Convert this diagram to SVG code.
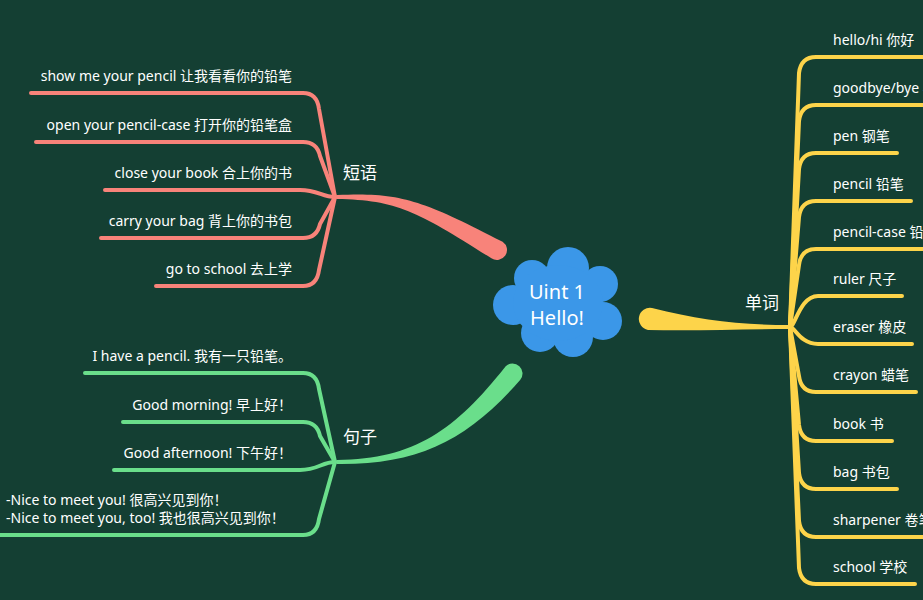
<svg xmlns="http://www.w3.org/2000/svg" width="923" height="600" viewBox="0 0 923 600">
<style>
.bg{fill:#143f33}
.leaf{fill:none;stroke-width:4;stroke-linecap:round;stroke-linejoin:round}
.coral{stroke:#f8837a}
.green{stroke:#6ade8b}
.yellow{stroke:#fdd44a}
.t{font-family:"Noto Sans","Noto Sans CJK SC",sans-serif;font-size:14px;fill:#ffffff}
.lab{font-family:"Noto Sans","Noto Sans CJK SC",sans-serif;font-size:17px;fill:#ffffff}
.ctr{font-family:"Noto Sans","Noto Sans CJK SC",sans-serif;font-size:20px;fill:#ffffff;text-anchor:middle}
.end{text-anchor:end}
</style>
<rect class="bg" x="0" y="0" width="923" height="600"/>
<g id="connectors">
  <path d="M337,195 C400,192 422,200 502.6,241.7 A10,10 0 0 1 491.4,258.3 C418,212 398,200 337,199 Z" fill="#f8837a"/>
  <path d="M337,460 C415,459 455,430 505.7,366.2 A10,10 0 0 1 520.3,379.8 C468,440 418,465 337,464 Z" fill="#6ade8b"/>
  <path d="M790,325 C740,325 700,320 652,308 A11,11 0 0 0 648,330 C700,331 740,329 790,329 Z" fill="#fdd44a"/>
  <g class="leaf coral">
    <path d="M31,93 H303 Q317,93 319,109 L335,197"/>
    <path d="M36,142 H303 Q317,142 320,156 L335,197"/>
    <path d="M105,190 H300 C318,190 322,197 335,197"/>
    <path d="M101,238 H303 Q317,238 320,224 L335,197"/>
    <path d="M156,286 H303 Q317,286 319,270 L335,197"/>
  </g>
  <g class="leaf green">
    <path d="M85,373 H303 Q317,373 319,389 L335,462"/>
    <path d="M123,422 H303 Q317,422 320,436 L335,462"/>
    <path d="M114,470 H300 C318,470 322,462 335,462"/>
    <path d="M-2,535 H303 Q317,535 319,519 L335,462"/>
  </g>
  <g class="leaf yellow">
    <path d="M925,57 H816 Q801,57 799,73 L790,327"/>
    <path d="M925,105 H816 Q801,105 799,121 L790,327"/>
    <path d="M897,153 H816 Q801,153 799,169 L790,327"/>
    <path d="M911,201 H816 Q801,201 799,217 L790,327"/>
    <path d="M925,249 H816 Q801,249 799,265 L790,327"/>
    <path d="M902,296 H818 C800,296 795,327 790,327"/>
    <path d="M912,344 H818 C800,344 795,327 790,327"/>
    <path d="M916,392 H816 Q801,392 799,376 L790,327"/>
    <path d="M892,441 H816 Q801,441 799,425 L790,327"/>
    <path d="M897,489 H816 Q801,489 799,473 L790,327"/>
    <path d="M925,537 H816 Q801,537 799,521 L790,327"/>
    <path d="M915,584 H816 Q801,584 799,568 L790,327"/>
  </g>
</g>
<g id="center" fill="#3b97e8">
  <circle cx="568" cy="268" r="21"/>
  <circle cx="600" cy="284" r="18"/>
  <circle cx="603" cy="321" r="19"/>
  <circle cx="573" cy="337" r="20"/>
  <circle cx="540" cy="333" r="19"/>
  <circle cx="513" cy="305" r="20"/>
  <circle cx="532" cy="278" r="18"/>
  <ellipse cx="558" cy="303" rx="45" ry="38"/>
  <text class="ctr" x="557" y="299">Uint 1</text>
  <text class="ctr" x="557" y="325">Hello!</text>
</g>
<g id="phrases">
  <text class="lab" x="343" y="179">短语</text>
</g>
<g id="p1"><text class="t end" x="292" y="81">show me your pencil 让我看看你的铅笔</text></g>
<g id="p2"><text class="t end" x="292" y="130">open your pencil-case 打开你的铅笔盒</text></g>
<g id="p3"><text class="t end" x="292" y="178">close your book 合上你的书</text></g>
<g id="p4"><text class="t end" x="292" y="226">carry your bag 背上你的书包</text></g>
<g id="p5"><text class="t end" x="292" y="274">go to school 去上学</text></g>
<g id="sentences">
  <text class="lab" x="343" y="443">句子</text>
</g>
<g id="s1"><text class="t end" x="292" y="361">I have a pencil. 我有一只铅笔。</text></g>
<g id="s2"><text class="t end" x="292" y="410">Good morning! 早上好！</text></g>
<g id="s3"><text class="t end" x="292" y="458">Good afternoon! 下午好！</text></g>
<g id="s4"><text class="t" x="6" y="505">-Nice to meet you! 很高兴见到你！</text><text class="t" x="6" y="523">-Nice to meet you, too! 我也很高兴见到你！</text></g>
<g id="words">
  <text class="lab" x="745" y="309">单词</text>
</g>
<g id="w1"><text class="t" x="833" y="45">hello/hi 你好</text></g>
<g id="w2"><text class="t" x="833" y="93">goodbye/bye 再见</text></g>
<g id="w3"><text class="t" x="833" y="141">pen 钢笔</text></g>
<g id="w4"><text class="t" x="833" y="189">pencil 铅笔</text></g>
<g id="w5"><text class="t" x="833" y="237">pencil-case 铅笔盒</text></g>
<g id="w6"><text class="t" x="833" y="284">ruler 尺子</text></g>
<g id="w7"><text class="t" x="833" y="332">eraser 橡皮</text></g>
<g id="w8"><text class="t" x="833" y="380">crayon 蜡笔</text></g>
<g id="w9"><text class="t" x="833" y="429">book 书</text></g>
<g id="w10"><text class="t" x="833" y="477">bag 书包</text></g>
<g id="w11"><text class="t" x="833" y="525">sharpener 卷笔刀</text></g>
<g id="w12"><text class="t" x="833" y="572">school 学校</text></g>
</svg>
